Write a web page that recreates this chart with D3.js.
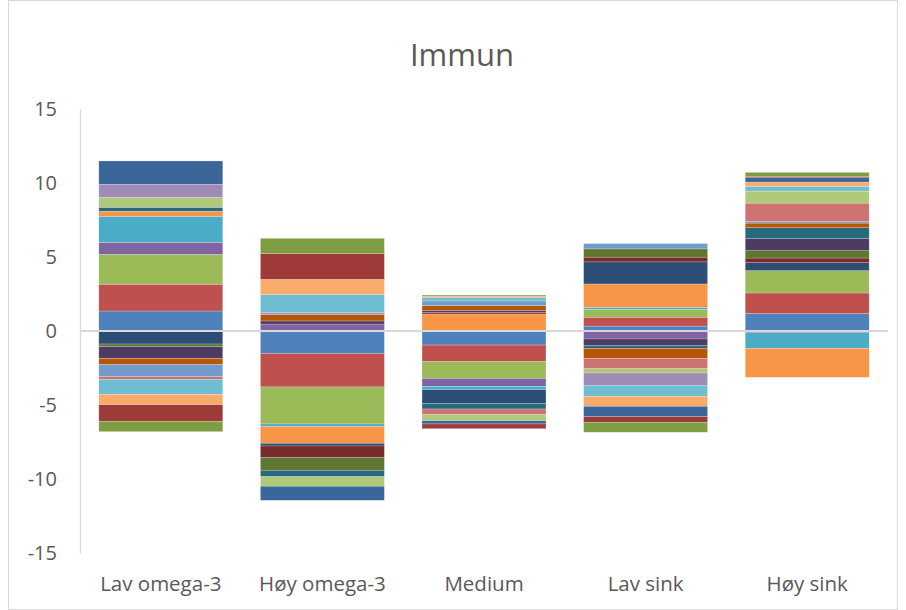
<!DOCTYPE html>
<html><head><meta charset="utf-8">
<script src="https://cdn.jsdelivr.net/npm/d3@7"></script>
<style>body{margin:0;background:#fff}svg{display:block}</style>
</head><body>
<script>
const categories = ["Lav omega-3", "Høy omega-3", "Medium", "Lav sink", "Høy sink"];
const seriesNames = d3.range(1, 22).map(i => "S" + i);
const seriesColors = ["#4F81BD","#C0504D","#9BBB59","#8064A2","#4BACC6","#F79646",
  "#2C4D75","#772C2A","#5F7530","#4D3B62","#276A7C","#B65708",
  "#729ACA","#CD7371","#AFC97A","#9F8CB6","#6FBDD1","#F9AB6B",
  "#3A6699","#9E3B39","#7E9D42"];
// values per category, one per series S1..S21
const lavOmega3 = [1.35,1.81,2.02,0.81,1.76,0.34,-0.88,0,-0.18,-0.79,0.27,-0.42,-0.82,-0.18,0.67,0.88,-1.01,-0.70,1.58,-1.12,-0.70];
const hoyOmega3 = [-1.53,-2.25,-2.50,0.47,-0.18,-1.13,-0.18,-0.79,-0.85,0.21,-0.43,0.43,0,0,-0.65,0.15,1.20,1.03,-0.95,1.74,1.03];
const medium    = [-0.95,-1.12,-1.13,-0.54,-0.22,1.15,-0.93,0.11,0,0.14,-0.38,0.31,0.32,-0.38,-0.41,0,0.25,0.08,-0.22,-0.32,0.07];
const lavSink   = [0.33,0.60,0.54,-0.54,0.13,1.58,1.49,0.32,0.56,-0.43,-0.20,-0.68,0.36,-0.70,-0.29,-0.83,-0.74,-0.68,-0.70,-0.38,-0.67];
const hoySink   = [1.18,1.39,1.51,-0.12,-1.05,-1.96,0.54,0.31,0.50,0.81,0.74,0.31,0.11,1.24,0.81,0,0.32,0.29,0.30,0.09,0.27];
const yTicks = [-15,-10,-5,0,5,10,15];
const title = "Immun";

const W = 906, H = 610;
const font = "'Open Sans', sans-serif";
const svg = d3.select("body").append("svg").attr("width", W).attr("height", H);
svg.append("rect").attr("x",8.5).attr("y",0.5).attr("width",889).attr("height",609)
  .attr("fill","#fff").attr("stroke","#d9d9d9");

const rows = [lavOmega3, hoyOmega3, medium, lavSink, hoySink];
const table = categories.map((c, i) => {
  const o = {cat: c};
  seriesNames.forEach((s, j) => o[s] = rows[i][j]);
  return o;
});

const x = d3.scaleBand().domain(categories).range([80, 888]).paddingInner(0.233).paddingOuter(0.1165);
const y = d3.scaleLinear().domain([-15, 15]).range([553, 109]);

const stack = d3.stack().keys(seriesNames).offset(d3.stackOffsetDiverging);
const layers = stack(table);

svg.append("g").selectAll("g").data(layers).join("g")
  .attr("fill", (d, i) => seriesColors[i])
  .selectAll("rect").data(d => d).join("rect")
  .attr("x", d => x(d.data.cat))
  .attr("width", x.bandwidth())
  .attr("y", d => y(Math.max(d[0], d[1])))
  .attr("height", d => Math.abs(y(d[0]) - y(d[1])))
  .attr("stroke", "rgba(255,255,255,0.35)").attr("stroke-width", 0.6);

// y axis
const ya = svg.append("g").attr("transform", "translate(80,0)")
  .call(d3.axisLeft(y).tickValues(yTicks).tickFormat(d => String(d)).tickSize(0).tickPadding(23));
ya.select(".domain").attr("stroke", "#d9d9d9").attr("stroke-width", 1.3);
ya.selectAll("text").attr("font-family", font).attr("font-size", 20).attr("fill", "#595959");

// zero line
svg.append("line").attr("x1", 80).attr("x2", 888).attr("y1", y(0)).attr("y2", y(0))
  .attr("stroke", "#d9d9d9").attr("stroke-width", 2);

// x labels
const xa = svg.append("g").attr("transform", "translate(0,553)")
  .call(d3.axisBottom(x).tickSize(0).tickPadding(23));
xa.select(".domain").remove();
xa.selectAll("text").attr("font-family", font).attr("font-size", 20.5).attr("fill", "#595959");

svg.append("text").attr("x", 462).attr("y", 66).attr("text-anchor", "middle")
  .attr("font-family", font).attr("font-size", 31).attr("fill", "#595959").text(title);
</script>
</body></html>
